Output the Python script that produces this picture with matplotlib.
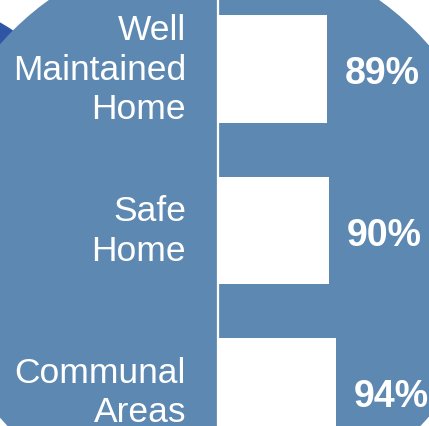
import matplotlib.pyplot as plt
from matplotlib.patches import Circle

categories = ['Well\nMaintained\nHome', 'Safe\nHome', 'Communal\nAreas']
values = [89, 90, 94]
value_labels = ['89%', '90%', '94%']

plt.rcParams['font.family'] = ['Liberation Sans', 'DejaVu Sans']

light_blue = '#5d88b2'
dark_blue = '#2f56a6'

fig = plt.figure(figsize=(4.29, 4.27), dpi=100)
fig.patch.set_facecolor('white')

# background decoration (pixel coordinates)
bg = fig.add_axes([0, 0, 1, 1])
bg.set_xlim(0, 429)
bg.set_ylim(427, 0)
bg.axis('off')
bg.add_patch(Circle((-100, 200), 203, color=dark_blue, lw=0))
bg.add_patch(Circle((214, 232), 284, color=light_blue, lw=0))

# bar chart
ax = fig.add_axes([218 / 429, 0, 211 / 429, 1])
ax.patch.set_alpha(0)
y = list(range(len(categories)))
ax.barh(y, values, height=0.665, color='white', left=0)
ax.set_xlim(28.4, 28.4 + 211 / 1.8)
ax.set_ylim(2 + 34 / 161.6, -70.2 / 161.6)

for s in ['top', 'right', 'bottom']:
    ax.spines[s].set_visible(False)
ax.spines['left'].set_color('white')
ax.spines['left'].set_linewidth(1.6)
ax.set_xticks([])
ax.set_yticks(y)
ax.set_yticklabels(categories, fontsize=25.5, color='white', linespacing=1.26)
for lab in ax.get_yticklabels():
    lab.set_va('center')
ax.tick_params(axis='y', length=0, pad=23)

for i, v in enumerate(values):
    ax.annotate(value_labels[i], xy=(v, i), xytext=(13, 0), textcoords='offset points',
                ha='left', va='center_baseline', fontsize=27, fontweight='bold', color='white')

fig.savefig('out.png', dpi=100, facecolor='white')
